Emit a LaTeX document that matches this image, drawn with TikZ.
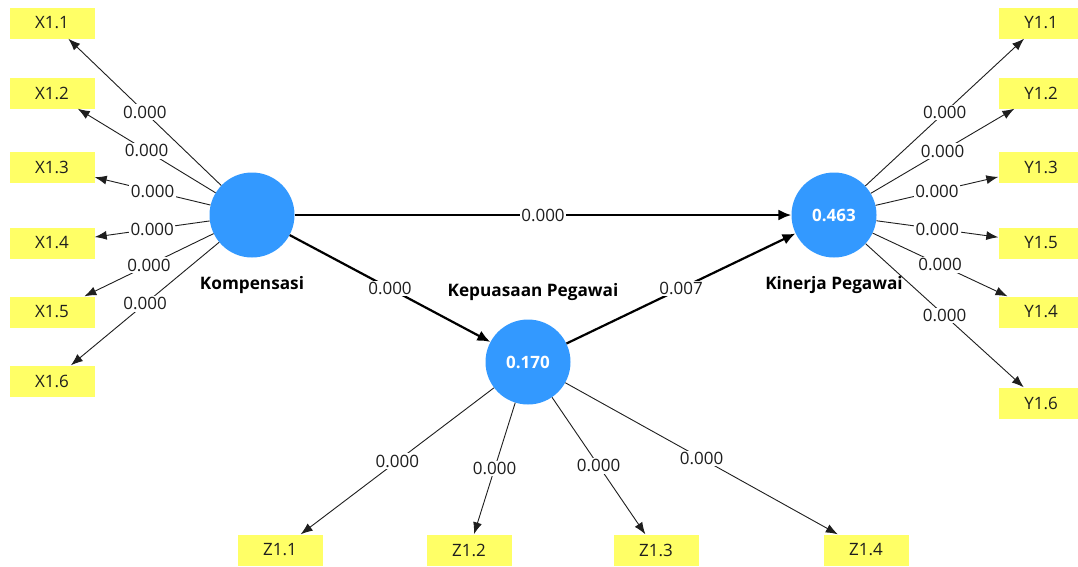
\documentclass[tikz,border=0pt]{standalone}
\usepackage{fontspec}
\setmainfont{Open Sans}
\usetikzlibrary{arrows.meta}
\definecolor{indy}{RGB}{255,255,102}
\definecolor{latblue}{RGB}{51,153,255}
\definecolor{txt}{RGB}{30,30,30}
\tikzset{
  ind/.style={rectangle, fill=indy, minimum width=85pt, minimum height=31pt, inner sep=0pt, text=txt, font=\fontsize{17}{18}\selectfont},
  lat/.style={circle, fill=latblue, minimum size=85pt, inner sep=0pt, text=white, font=\bfseries\fontsize{17}{18}\selectfont},
  latname/.style={text=black, font=\bfseries\fontsize{17.2}{18}\selectfont, inner sep=0pt},
  ld/.style={draw=txt, line width=0.9pt, -{Latex[length=12pt,width=9pt]}},
  sd/.style={draw=black, line width=2.2pt, -{Latex[length=13pt,width=11pt]}},
  lbl/.style={fill=white, inner sep=1.5pt, text=txt, font=\fontsize{17}{18}\selectfont},
}
\begin{document}
\begin{tikzpicture}[x=1pt,y=-1pt]
\useasboundingbox[fill=white] (0,0) rectangle (1078,566);
% latent variables
\node[lat] (K) at (252,215) {};
\node[lat] (KP) at (528,362) {0.170};
\node[lat] (KN) at (834,215) {0.463};
\node[latname] (Kn) at (252,285) {Kompensasi};
\node[latname] (KPn) at (533,292) {Kepuasaan Pegawai};
\node[latname] (KNn) at (834,285) {Kinerja Pegawai};
% indicators X
\node[ind] (X11) at (52,23) {X1.1};
\node[ind] (X12) at (52,93) {X1.2};
\node[ind] (X13) at (52,167) {X1.3};
\node[ind] (X14) at (52,243) {X1.4};
\node[ind] (X15) at (52,312) {X1.5};
\node[ind] (X16) at (52,381) {X1.6};
% indicators Y
\node[ind] (Y11) at (1041,23) {Y1.1};
\node[ind] (Y12) at (1041,93) {Y1.2};
\node[ind] (Y13) at (1041,167) {Y1.3};
\node[ind] (Y15) at (1041,243) {Y1.5};
\node[ind] (Y14) at (1041,312) {Y1.4};
\node[ind] (Y16) at (1041,403) {Y1.6};
% indicators Z
\node[ind] (Z11) at (280,550) {Z1.1};
\node[ind] (Z12) at (469,550) {Z1.2};
\node[ind] (Z13) at (656,550) {Z1.3};
\node[ind] (Z14) at (866,550) {Z1.4};
% outer loadings
\foreach \t in {X11,X12,X13,X14,X15,X16}
  \draw[ld] (K) -- node[lbl]{0.000} (\t);
\foreach \t in {Y11,Y12,Y13,Y15,Y14,Y16}
  \draw[ld] (KN) -- node[lbl]{0.000} (\t);
\foreach \t in {Z11,Z12,Z13,Z14}
  \draw[ld] (KP) -- node[lbl]{0.000} (\t);
% structural paths
\draw[sd] (K) -- node[lbl]{0.000} (KN);
\draw[sd] (K) -- node[lbl]{0.000} (KP);
\draw[sd] (KP) -- node[lbl]{0.007} (KN);
\end{tikzpicture}
\end{document}
